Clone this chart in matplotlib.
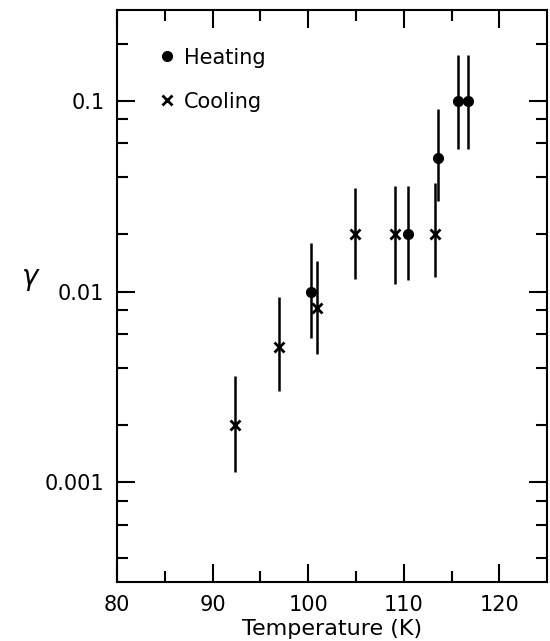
import numpy as np
import matplotlib.pyplot as plt
from matplotlib.ticker import FixedLocator, NullFormatter

# heating runs
heat_T = [100.3, 110.4, 113.6, 115.7, 116.7]
heat_g = [0.01, 0.02, 0.05, 0.1, 0.1]
heat_lo = [0.0057, 0.0115, 0.030, 0.056, 0.056]
heat_hi = [0.018, 0.036, 0.091, 0.175, 0.175]

# cooling runs
cool_T = [92.3, 96.9, 100.9, 104.9, 109.1, 113.3]
cool_g = [0.002, 0.0051, 0.0082, 0.02, 0.02, 0.02]
cool_lo = [0.00113, 0.003, 0.0047, 0.0116, 0.011, 0.012]
cool_hi = [0.0036, 0.0094, 0.0145, 0.035, 0.036, 0.037]

x_ticks = [80, 90, 100, 110, 120]
y_ticks = [0.001, 0.01, 0.1]
y_ticklabels = ["0.001", "0.01", "0.1"]

plt.rcParams['font.family'] = 'DejaVu Sans'

fig = plt.figure(figsize=(5.5, 6.41), dpi=100)
ax = fig.add_axes([0.2127, 0.092, 0.782, 0.8924])

heat_g = np.array(heat_g)
cool_g = np.array(cool_g)
heat_err = [heat_g - np.array(heat_lo), np.array(heat_hi) - heat_g]
cool_err = [cool_g - np.array(cool_lo), np.array(cool_hi) - cool_g]

ax.errorbar(heat_T, heat_g, yerr=heat_err, fmt='none', ecolor='black', elinewidth=1.8, capsize=0)
ax.errorbar(cool_T, cool_g, yerr=cool_err, fmt='none', ecolor='black', elinewidth=1.8, capsize=0)
ax.plot(heat_T, heat_g, 'o', color='black', markersize=7, label='Heating')
ax.plot(cool_T, cool_g, 'x', color='black', markersize=7, markeredgewidth=2, label='Cooling')

ax.set_yscale('log')
ax.set_xlim(80, 125)
ax.set_ylim(0.0003, 0.3)

ax.set_xticks(x_ticks)
ax.set_xticks(np.arange(85, 125, 10), minor=True)
ax.yaxis.set_major_locator(FixedLocator(y_ticks))
ax.set_yticklabels(y_ticklabels)
minor_y = [m * d for d in [0.0001, 0.001, 0.01, 0.1] for m in [2, 4, 6, 8]]
ax.yaxis.set_minor_locator(FixedLocator(minor_y))
ax.yaxis.set_minor_formatter(NullFormatter())

ax.tick_params(which='both', direction='in', top=True, right=True, width=1.5, labelsize=15)
ax.tick_params(which='major', length=13, pad=9)
ax.tick_params(which='minor', length=8)
for s in ax.spines.values():
    s.set_linewidth(1.5)

ax.set_xlabel("Temperature (K)", fontsize=16, labelpad=3)
ax.set_ylabel(r"$\gamma$", fontsize=20, rotation=0)
ax.yaxis.set_label_coords(-0.2, 0.505)

ax.legend(loc='upper left', frameon=False, fontsize=15, handletextpad=0.2,
          labelspacing=1.15, handlelength=1.2, borderaxespad=1.0, bbox_to_anchor=(0.02, 0.985))

fig.savefig("out.png", dpi=100)
